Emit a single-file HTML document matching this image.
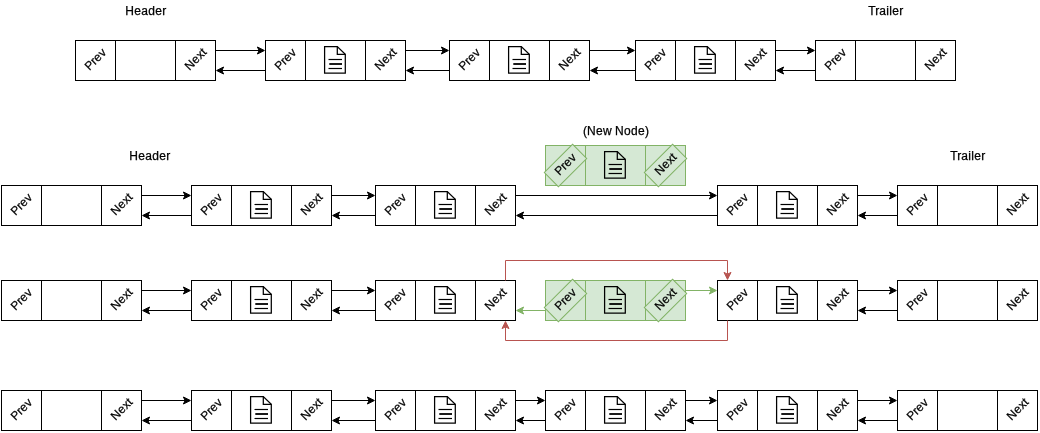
<!DOCTYPE html><html><head><meta charset="utf-8"><style>html,body{margin:0;padding:0;background:#fff;}svg{display:block;will-change:transform;}text{font-family:"Liberation Sans", sans-serif;fill:#000;stroke:#000;stroke-width:0.25px;}</style></head><body><svg width="1040" height="433" viewBox="0 0 1040 433"><rect x="0" y="0" width="1040" height="433" fill="#fff"/><g transform="translate(0.5,0.5)"><rect x="75" y="40" width="140" height="40" fill="#ffffff" stroke="#000000"/><path d="M115 40L115 80M175 40L175 80" stroke="#000000" fill="none"/><text x="83.30 91.30 95.30 102.30" y="63.05" font-size="12" transform="rotate(-45 95 60)">Prev</text><text x="183.30 192.30 199.30 205.30" y="63.05" font-size="12" transform="rotate(-45 195 60)">Next</text><rect x="265" y="40" width="140" height="40" fill="#ffffff" stroke="#000000"/><path d="M305 40L305 80M365 40L365 80" stroke="#000000" fill="none"/><text x="273.30 281.30 285.30 292.30" y="63.05" font-size="12" transform="rotate(-45 285 60)">Prev</text><text x="373.30 382.30 389.30 395.30" y="63.05" font-size="12" transform="rotate(-45 385 60)">Next</text><path d="M324.10 46.10L336.80 46.10L344.80 53.85L344.80 72.50L324.10 72.50Z" fill="none" stroke="#000" stroke-width="1.25" stroke-linejoin="miter"/><path d="M336.80 46.10L336.80 53.85L344.80 53.85" fill="none" stroke="#000" stroke-width="1.25"/><path d="M328.00 59.00L341.50 59.00" stroke="#000" stroke-width="1.2"/><path d="M328.80 63.50L341.50 63.50" stroke="#000" stroke-width="1.8"/><path d="M328.00 68.00L341.50 68.00" stroke="#000" stroke-width="1.2"/><rect x="449" y="40" width="140" height="40" fill="#ffffff" stroke="#000000"/><path d="M489 40L489 80M549 40L549 80" stroke="#000000" fill="none"/><text x="457.30 465.30 469.30 476.30" y="63.05" font-size="12" transform="rotate(-45 469 60)">Prev</text><text x="557.30 566.30 573.30 579.30" y="63.05" font-size="12" transform="rotate(-45 569 60)">Next</text><path d="M508.10 46.10L520.80 46.10L528.80 53.85L528.80 72.50L508.10 72.50Z" fill="none" stroke="#000" stroke-width="1.25" stroke-linejoin="miter"/><path d="M520.80 46.10L520.80 53.85L528.80 53.85" fill="none" stroke="#000" stroke-width="1.25"/><path d="M512.00 59.00L525.50 59.00" stroke="#000" stroke-width="1.2"/><path d="M512.80 63.50L525.50 63.50" stroke="#000" stroke-width="1.8"/><path d="M512.00 68.00L525.50 68.00" stroke="#000" stroke-width="1.2"/><rect x="635" y="40" width="140" height="40" fill="#ffffff" stroke="#000000"/><path d="M675 40L675 80M735 40L735 80" stroke="#000000" fill="none"/><text x="643.30 651.30 655.30 662.30" y="63.05" font-size="12" transform="rotate(-45 655 60)">Prev</text><text x="743.30 752.30 759.30 765.30" y="63.05" font-size="12" transform="rotate(-45 755 60)">Next</text><path d="M694.10 46.10L706.80 46.10L714.80 53.85L714.80 72.50L694.10 72.50Z" fill="none" stroke="#000" stroke-width="1.25" stroke-linejoin="miter"/><path d="M706.80 46.10L706.80 53.85L714.80 53.85" fill="none" stroke="#000" stroke-width="1.25"/><path d="M698.00 59.00L711.50 59.00" stroke="#000" stroke-width="1.2"/><path d="M698.80 63.50L711.50 63.50" stroke="#000" stroke-width="1.8"/><path d="M698.00 68.00L711.50 68.00" stroke="#000" stroke-width="1.2"/><rect x="815" y="40" width="140" height="40" fill="#ffffff" stroke="#000000"/><path d="M855 40L855 80M915 40L915 80" stroke="#000000" fill="none"/><text x="823.30 831.30 835.30 842.30" y="63.05" font-size="12" transform="rotate(-45 835 60)">Prev</text><text x="923.30 932.30 939.30 945.30" y="63.05" font-size="12" transform="rotate(-45 935 60)">Next</text><path d="M215 50L258.632 50" fill="none" stroke="#000000" stroke-miterlimit="10"/><path d="M263.882 50.000L256.882 46.500L258.632 50.000L256.882 53.500Z" fill="#000000" stroke="#000000" stroke-miterlimit="10"/><path d="M265 70L221.368 70" fill="none" stroke="#000000" stroke-miterlimit="10"/><path d="M216.118 70.000L223.118 66.500L221.368 70.000L223.118 73.500Z" fill="#000000" stroke="#000000" stroke-miterlimit="10"/><path d="M405 50L442.632 50" fill="none" stroke="#000000" stroke-miterlimit="10"/><path d="M447.882 50.000L440.882 46.500L442.632 50.000L440.882 53.500Z" fill="#000000" stroke="#000000" stroke-miterlimit="10"/><path d="M449 70L411.368 70" fill="none" stroke="#000000" stroke-miterlimit="10"/><path d="M406.118 70.000L413.118 66.500L411.368 70.000L413.118 73.500Z" fill="#000000" stroke="#000000" stroke-miterlimit="10"/><path d="M589 50L628.632 50" fill="none" stroke="#000000" stroke-miterlimit="10"/><path d="M633.882 50.000L626.882 46.500L628.632 50.000L626.882 53.500Z" fill="#000000" stroke="#000000" stroke-miterlimit="10"/><path d="M635 70L595.368 70" fill="none" stroke="#000000" stroke-miterlimit="10"/><path d="M590.118 70.000L597.118 66.500L595.368 70.000L597.118 73.500Z" fill="#000000" stroke="#000000" stroke-miterlimit="10"/><path d="M775 50L808.632 50" fill="none" stroke="#000000" stroke-miterlimit="10"/><path d="M813.882 50.000L806.882 46.500L808.632 50.000L806.882 53.500Z" fill="#000000" stroke="#000000" stroke-miterlimit="10"/><path d="M815 70L781.368 70" fill="none" stroke="#000000" stroke-miterlimit="10"/><path d="M776.118 70.000L783.118 66.500L781.368 70.000L783.118 73.500Z" fill="#000000" stroke="#000000" stroke-miterlimit="10"/><text x="124.82 133.82 140.82 147.82 154.82 161.82" y="14.3" font-size="12">Header</text><text x="867.73 874.73 878.73 885.73 888.73 891.73 898.73" y="14.4" font-size="12">Trailer</text><rect x="1" y="185" width="140" height="40" fill="#ffffff" stroke="#000000"/><path d="M41 185L41 225M101 185L101 225" stroke="#000000" fill="none"/><text x="9.30 17.30 21.30 28.30" y="208.05" font-size="12" transform="rotate(-45 21 205)">Prev</text><text x="109.30 118.30 125.30 131.30" y="208.05" font-size="12" transform="rotate(-45 121 205)">Next</text><rect x="191" y="185" width="140" height="40" fill="#ffffff" stroke="#000000"/><path d="M231 185L231 225M291 185L291 225" stroke="#000000" fill="none"/><text x="199.30 207.30 211.30 218.30" y="208.05" font-size="12" transform="rotate(-45 211 205)">Prev</text><text x="299.30 308.30 315.30 321.30" y="208.05" font-size="12" transform="rotate(-45 311 205)">Next</text><path d="M250.10 191.10L262.80 191.10L270.80 198.85L270.80 217.50L250.10 217.50Z" fill="none" stroke="#000" stroke-width="1.25" stroke-linejoin="miter"/><path d="M262.80 191.10L262.80 198.85L270.80 198.85" fill="none" stroke="#000" stroke-width="1.25"/><path d="M254.00 204.00L267.50 204.00" stroke="#000" stroke-width="1.2"/><path d="M254.80 208.50L267.50 208.50" stroke="#000" stroke-width="1.8"/><path d="M254.00 213.00L267.50 213.00" stroke="#000" stroke-width="1.2"/><rect x="375" y="185" width="140" height="40" fill="#ffffff" stroke="#000000"/><path d="M415 185L415 225M475 185L475 225" stroke="#000000" fill="none"/><text x="383.30 391.30 395.30 402.30" y="208.05" font-size="12" transform="rotate(-45 395 205)">Prev</text><text x="483.30 492.30 499.30 505.30" y="208.05" font-size="12" transform="rotate(-45 495 205)">Next</text><path d="M434.10 191.10L446.80 191.10L454.80 198.85L454.80 217.50L434.10 217.50Z" fill="none" stroke="#000" stroke-width="1.25" stroke-linejoin="miter"/><path d="M446.80 191.10L446.80 198.85L454.80 198.85" fill="none" stroke="#000" stroke-width="1.25"/><path d="M438.00 204.00L451.50 204.00" stroke="#000" stroke-width="1.2"/><path d="M438.80 208.50L451.50 208.50" stroke="#000" stroke-width="1.8"/><path d="M438.00 213.00L451.50 213.00" stroke="#000" stroke-width="1.2"/><rect x="717" y="185" width="140" height="40" fill="#ffffff" stroke="#000000"/><path d="M757 185L757 225M817 185L817 225" stroke="#000000" fill="none"/><text x="725.30 733.30 737.30 744.30" y="208.05" font-size="12" transform="rotate(-45 737 205)">Prev</text><text x="825.30 834.30 841.30 847.30" y="208.05" font-size="12" transform="rotate(-45 837 205)">Next</text><path d="M776.10 191.10L788.80 191.10L796.80 198.85L796.80 217.50L776.10 217.50Z" fill="none" stroke="#000" stroke-width="1.25" stroke-linejoin="miter"/><path d="M788.80 191.10L788.80 198.85L796.80 198.85" fill="none" stroke="#000" stroke-width="1.25"/><path d="M780.00 204.00L793.50 204.00" stroke="#000" stroke-width="1.2"/><path d="M780.80 208.50L793.50 208.50" stroke="#000" stroke-width="1.8"/><path d="M780.00 213.00L793.50 213.00" stroke="#000" stroke-width="1.2"/><rect x="897" y="185" width="140" height="40" fill="#ffffff" stroke="#000000"/><path d="M937 185L937 225M997 185L997 225" stroke="#000000" fill="none"/><text x="905.30 913.30 917.30 924.30" y="208.05" font-size="12" transform="rotate(-45 917 205)">Prev</text><text x="1005.30 1014.30 1021.30 1027.30" y="208.05" font-size="12" transform="rotate(-45 1017 205)">Next</text><path d="M141 195L184.632 195" fill="none" stroke="#000000" stroke-miterlimit="10"/><path d="M189.882 195.000L182.882 191.500L184.632 195.000L182.882 198.500Z" fill="#000000" stroke="#000000" stroke-miterlimit="10"/><path d="M191 215L147.368 215" fill="none" stroke="#000000" stroke-miterlimit="10"/><path d="M142.118 215.000L149.118 211.500L147.368 215.000L149.118 218.500Z" fill="#000000" stroke="#000000" stroke-miterlimit="10"/><path d="M331 195L368.632 195" fill="none" stroke="#000000" stroke-miterlimit="10"/><path d="M373.882 195.000L366.882 191.500L368.632 195.000L366.882 198.500Z" fill="#000000" stroke="#000000" stroke-miterlimit="10"/><path d="M375 215L337.368 215" fill="none" stroke="#000000" stroke-miterlimit="10"/><path d="M332.118 215.000L339.118 211.500L337.368 215.000L339.118 218.500Z" fill="#000000" stroke="#000000" stroke-miterlimit="10"/><path d="M515 195L710.632 195" fill="none" stroke="#000000" stroke-miterlimit="10"/><path d="M715.882 195.000L708.882 191.500L710.632 195.000L708.882 198.500Z" fill="#000000" stroke="#000000" stroke-miterlimit="10"/><path d="M717 215L521.368 215" fill="none" stroke="#000000" stroke-miterlimit="10"/><path d="M516.118 215.000L523.118 211.500L521.368 215.000L523.118 218.500Z" fill="#000000" stroke="#000000" stroke-miterlimit="10"/><path d="M857 195L890.632 195" fill="none" stroke="#000000" stroke-miterlimit="10"/><path d="M895.882 195.000L888.882 191.500L890.632 195.000L888.882 198.500Z" fill="#000000" stroke="#000000" stroke-miterlimit="10"/><path d="M897 215L863.368 215" fill="none" stroke="#000000" stroke-miterlimit="10"/><path d="M858.118 215.000L865.118 211.500L863.368 215.000L865.118 218.500Z" fill="#000000" stroke="#000000" stroke-miterlimit="10"/><text x="128.82 137.82 144.82 151.82 158.82 165.82" y="159.3" font-size="12">Header</text><text x="949.73 956.73 960.73 967.73 970.73 973.73 980.73" y="159.4" font-size="12">Trailer</text><rect x="545" y="145" width="140" height="40" fill="#d5e8d4" stroke="#82b366"/><path d="M585 145L585 185M645 145L645 185" stroke="#82b366" fill="none"/><rect x="545" y="155" width="40" height="20" fill="#d5e8d4" stroke="#82b366" transform="rotate(-45 565 165)"/><text x="553.30 561.30 565.30 572.30" y="168.05" font-size="12" transform="rotate(-45 565 165)">Prev</text><rect x="645" y="155" width="40" height="20" fill="#d5e8d4" stroke="#82b366" transform="rotate(-45 665 165)"/><text x="653.30 662.30 669.30 675.30" y="168.05" font-size="12" transform="rotate(-45 665 165)">Next</text><path d="M604.10 151.10L616.80 151.10L624.80 158.85L624.80 177.50L604.10 177.50Z" fill="none" stroke="#000" stroke-width="1.25" stroke-linejoin="miter"/><path d="M616.80 151.10L616.80 158.85L624.80 158.85" fill="none" stroke="#000" stroke-width="1.25"/><path d="M608.00 164.00L621.50 164.00" stroke="#000" stroke-width="1.2"/><path d="M608.80 168.50L621.50 168.50" stroke="#000" stroke-width="1.8"/><path d="M608.00 173.00L621.50 173.00" stroke="#000" stroke-width="1.2"/><text x="582.56 586.56 595.56 602.56 611.56 614.56 623.56 630.56 637.56 644.56" y="134.1" font-size="12">(New Node)</text><rect x="1" y="280" width="140" height="40" fill="#ffffff" stroke="#000000"/><path d="M41 280L41 320M101 280L101 320" stroke="#000000" fill="none"/><text x="9.30 17.30 21.30 28.30" y="303.05" font-size="12" transform="rotate(-45 21 300)">Prev</text><text x="109.30 118.30 125.30 131.30" y="303.05" font-size="12" transform="rotate(-45 121 300)">Next</text><rect x="191" y="280" width="140" height="40" fill="#ffffff" stroke="#000000"/><path d="M231 280L231 320M291 280L291 320" stroke="#000000" fill="none"/><text x="199.30 207.30 211.30 218.30" y="303.05" font-size="12" transform="rotate(-45 211 300)">Prev</text><text x="299.30 308.30 315.30 321.30" y="303.05" font-size="12" transform="rotate(-45 311 300)">Next</text><path d="M250.10 286.10L262.80 286.10L270.80 293.85L270.80 312.50L250.10 312.50Z" fill="none" stroke="#000" stroke-width="1.25" stroke-linejoin="miter"/><path d="M262.80 286.10L262.80 293.85L270.80 293.85" fill="none" stroke="#000" stroke-width="1.25"/><path d="M254.00 299.00L267.50 299.00" stroke="#000" stroke-width="1.2"/><path d="M254.80 303.50L267.50 303.50" stroke="#000" stroke-width="1.8"/><path d="M254.00 308.00L267.50 308.00" stroke="#000" stroke-width="1.2"/><rect x="375" y="280" width="140" height="40" fill="#ffffff" stroke="#000000"/><path d="M415 280L415 320M475 280L475 320" stroke="#000000" fill="none"/><text x="383.30 391.30 395.30 402.30" y="303.05" font-size="12" transform="rotate(-45 395 300)">Prev</text><text x="483.30 492.30 499.30 505.30" y="303.05" font-size="12" transform="rotate(-45 495 300)">Next</text><path d="M434.10 286.10L446.80 286.10L454.80 293.85L454.80 312.50L434.10 312.50Z" fill="none" stroke="#000" stroke-width="1.25" stroke-linejoin="miter"/><path d="M446.80 286.10L446.80 293.85L454.80 293.85" fill="none" stroke="#000" stroke-width="1.25"/><path d="M438.00 299.00L451.50 299.00" stroke="#000" stroke-width="1.2"/><path d="M438.80 303.50L451.50 303.50" stroke="#000" stroke-width="1.8"/><path d="M438.00 308.00L451.50 308.00" stroke="#000" stroke-width="1.2"/><rect x="717" y="280" width="140" height="40" fill="#ffffff" stroke="#000000"/><path d="M757 280L757 320M817 280L817 320" stroke="#000000" fill="none"/><text x="725.30 733.30 737.30 744.30" y="303.05" font-size="12" transform="rotate(-45 737 300)">Prev</text><text x="825.30 834.30 841.30 847.30" y="303.05" font-size="12" transform="rotate(-45 837 300)">Next</text><path d="M776.10 286.10L788.80 286.10L796.80 293.85L796.80 312.50L776.10 312.50Z" fill="none" stroke="#000" stroke-width="1.25" stroke-linejoin="miter"/><path d="M788.80 286.10L788.80 293.85L796.80 293.85" fill="none" stroke="#000" stroke-width="1.25"/><path d="M780.00 299.00L793.50 299.00" stroke="#000" stroke-width="1.2"/><path d="M780.80 303.50L793.50 303.50" stroke="#000" stroke-width="1.8"/><path d="M780.00 308.00L793.50 308.00" stroke="#000" stroke-width="1.2"/><rect x="897" y="280" width="140" height="40" fill="#ffffff" stroke="#000000"/><path d="M937 280L937 320M997 280L997 320" stroke="#000000" fill="none"/><text x="905.30 913.30 917.30 924.30" y="303.05" font-size="12" transform="rotate(-45 917 300)">Prev</text><text x="1005.30 1014.30 1021.30 1027.30" y="303.05" font-size="12" transform="rotate(-45 1017 300)">Next</text><path d="M141 290L184.632 290" fill="none" stroke="#000000" stroke-miterlimit="10"/><path d="M189.882 290.000L182.882 286.500L184.632 290.000L182.882 293.500Z" fill="#000000" stroke="#000000" stroke-miterlimit="10"/><path d="M191 310L147.368 310" fill="none" stroke="#000000" stroke-miterlimit="10"/><path d="M142.118 310.000L149.118 306.500L147.368 310.000L149.118 313.500Z" fill="#000000" stroke="#000000" stroke-miterlimit="10"/><path d="M331 290L368.632 290" fill="none" stroke="#000000" stroke-miterlimit="10"/><path d="M373.882 290.000L366.882 286.500L368.632 290.000L366.882 293.500Z" fill="#000000" stroke="#000000" stroke-miterlimit="10"/><path d="M375 310L337.368 310" fill="none" stroke="#000000" stroke-miterlimit="10"/><path d="M332.118 310.000L339.118 306.500L337.368 310.000L339.118 313.500Z" fill="#000000" stroke="#000000" stroke-miterlimit="10"/><path d="M857 290L890.632 290" fill="none" stroke="#000000" stroke-miterlimit="10"/><path d="M895.882 290.000L888.882 286.500L890.632 290.000L888.882 293.500Z" fill="#000000" stroke="#000000" stroke-miterlimit="10"/><path d="M897 310L863.368 310" fill="none" stroke="#000000" stroke-miterlimit="10"/><path d="M858.118 310.000L865.118 306.500L863.368 310.000L865.118 313.500Z" fill="#000000" stroke="#000000" stroke-miterlimit="10"/><rect x="545" y="280" width="140" height="40" fill="#d5e8d4" stroke="#82b366"/><path d="M585 280L585 320M645 280L645 320" stroke="#82b366" fill="none"/><rect x="545" y="290" width="40" height="20" fill="#d5e8d4" stroke="#82b366" transform="rotate(-45 565 300)"/><text x="553.30 561.30 565.30 572.30" y="303.05" font-size="12" transform="rotate(-45 565 300)">Prev</text><rect x="645" y="290" width="40" height="20" fill="#d5e8d4" stroke="#82b366" transform="rotate(-45 665 300)"/><text x="653.30 662.30 669.30 675.30" y="303.05" font-size="12" transform="rotate(-45 665 300)">Next</text><path d="M604.10 286.10L616.80 286.10L624.80 293.85L624.80 312.50L604.10 312.50Z" fill="none" stroke="#000" stroke-width="1.25" stroke-linejoin="miter"/><path d="M616.80 286.10L616.80 293.85L624.80 293.85" fill="none" stroke="#000" stroke-width="1.25"/><path d="M608.00 299.00L621.50 299.00" stroke="#000" stroke-width="1.2"/><path d="M608.80 303.50L621.50 303.50" stroke="#000" stroke-width="1.8"/><path d="M608.00 308.00L621.50 308.00" stroke="#000" stroke-width="1.2"/><path d="M545 310L521.368 310" fill="none" stroke="#82b366" stroke-miterlimit="10"/><path d="M516.118 310.000L523.118 306.500L521.368 310.000L523.118 313.500Z" fill="#82b366" stroke="#82b366" stroke-miterlimit="10"/><path d="M685 290L710.632 290" fill="none" stroke="#82b366" stroke-miterlimit="10"/><path d="M715.882 290.000L708.882 286.500L710.632 290.000L708.882 293.500Z" fill="#82b366" stroke="#82b366" stroke-miterlimit="10"/><path d="M505 280L505 260L727 260L727 273.632" fill="none" stroke="#b85450" stroke-miterlimit="10"/><path d="M727.000 278.882L723.500 271.882L727.000 273.632L730.500 271.882Z" fill="#b85450" stroke="#b85450" stroke-miterlimit="10"/><path d="M727 320L727 340L505 340L505 326.368" fill="none" stroke="#b85450" stroke-miterlimit="10"/><path d="M505.000 321.118L501.500 328.118L505.000 326.368L508.500 328.118Z" fill="#b85450" stroke="#b85450" stroke-miterlimit="10"/><rect x="1" y="390" width="140" height="40" fill="#ffffff" stroke="#000000"/><path d="M41 390L41 430M101 390L101 430" stroke="#000000" fill="none"/><text x="9.30 17.30 21.30 28.30" y="413.05" font-size="12" transform="rotate(-45 21 410)">Prev</text><text x="109.30 118.30 125.30 131.30" y="413.05" font-size="12" transform="rotate(-45 121 410)">Next</text><rect x="191" y="390" width="140" height="40" fill="#ffffff" stroke="#000000"/><path d="M231 390L231 430M291 390L291 430" stroke="#000000" fill="none"/><text x="199.30 207.30 211.30 218.30" y="413.05" font-size="12" transform="rotate(-45 211 410)">Prev</text><text x="299.30 308.30 315.30 321.30" y="413.05" font-size="12" transform="rotate(-45 311 410)">Next</text><path d="M250.10 396.10L262.80 396.10L270.80 403.85L270.80 422.50L250.10 422.50Z" fill="none" stroke="#000" stroke-width="1.25" stroke-linejoin="miter"/><path d="M262.80 396.10L262.80 403.85L270.80 403.85" fill="none" stroke="#000" stroke-width="1.25"/><path d="M254.00 409.00L267.50 409.00" stroke="#000" stroke-width="1.2"/><path d="M254.80 413.50L267.50 413.50" stroke="#000" stroke-width="1.8"/><path d="M254.00 418.00L267.50 418.00" stroke="#000" stroke-width="1.2"/><rect x="375" y="390" width="140" height="40" fill="#ffffff" stroke="#000000"/><path d="M415 390L415 430M475 390L475 430" stroke="#000000" fill="none"/><text x="383.30 391.30 395.30 402.30" y="413.05" font-size="12" transform="rotate(-45 395 410)">Prev</text><text x="483.30 492.30 499.30 505.30" y="413.05" font-size="12" transform="rotate(-45 495 410)">Next</text><path d="M434.10 396.10L446.80 396.10L454.80 403.85L454.80 422.50L434.10 422.50Z" fill="none" stroke="#000" stroke-width="1.25" stroke-linejoin="miter"/><path d="M446.80 396.10L446.80 403.85L454.80 403.85" fill="none" stroke="#000" stroke-width="1.25"/><path d="M438.00 409.00L451.50 409.00" stroke="#000" stroke-width="1.2"/><path d="M438.80 413.50L451.50 413.50" stroke="#000" stroke-width="1.8"/><path d="M438.00 418.00L451.50 418.00" stroke="#000" stroke-width="1.2"/><rect x="545" y="390" width="140" height="40" fill="#ffffff" stroke="#000000"/><path d="M585 390L585 430M645 390L645 430" stroke="#000000" fill="none"/><text x="553.30 561.30 565.30 572.30" y="413.05" font-size="12" transform="rotate(-45 565 410)">Prev</text><text x="653.30 662.30 669.30 675.30" y="413.05" font-size="12" transform="rotate(-45 665 410)">Next</text><path d="M604.10 396.10L616.80 396.10L624.80 403.85L624.80 422.50L604.10 422.50Z" fill="none" stroke="#000" stroke-width="1.25" stroke-linejoin="miter"/><path d="M616.80 396.10L616.80 403.85L624.80 403.85" fill="none" stroke="#000" stroke-width="1.25"/><path d="M608.00 409.00L621.50 409.00" stroke="#000" stroke-width="1.2"/><path d="M608.80 413.50L621.50 413.50" stroke="#000" stroke-width="1.8"/><path d="M608.00 418.00L621.50 418.00" stroke="#000" stroke-width="1.2"/><rect x="717" y="390" width="140" height="40" fill="#ffffff" stroke="#000000"/><path d="M757 390L757 430M817 390L817 430" stroke="#000000" fill="none"/><text x="725.30 733.30 737.30 744.30" y="413.05" font-size="12" transform="rotate(-45 737 410)">Prev</text><text x="825.30 834.30 841.30 847.30" y="413.05" font-size="12" transform="rotate(-45 837 410)">Next</text><path d="M776.10 396.10L788.80 396.10L796.80 403.85L796.80 422.50L776.10 422.50Z" fill="none" stroke="#000" stroke-width="1.25" stroke-linejoin="miter"/><path d="M788.80 396.10L788.80 403.85L796.80 403.85" fill="none" stroke="#000" stroke-width="1.25"/><path d="M780.00 409.00L793.50 409.00" stroke="#000" stroke-width="1.2"/><path d="M780.80 413.50L793.50 413.50" stroke="#000" stroke-width="1.8"/><path d="M780.00 418.00L793.50 418.00" stroke="#000" stroke-width="1.2"/><rect x="897" y="390" width="140" height="40" fill="#ffffff" stroke="#000000"/><path d="M937 390L937 430M997 390L997 430" stroke="#000000" fill="none"/><text x="905.30 913.30 917.30 924.30" y="413.05" font-size="12" transform="rotate(-45 917 410)">Prev</text><text x="1005.30 1014.30 1021.30 1027.30" y="413.05" font-size="12" transform="rotate(-45 1017 410)">Next</text><path d="M141 400L184.632 400" fill="none" stroke="#000000" stroke-miterlimit="10"/><path d="M189.882 400.000L182.882 396.500L184.632 400.000L182.882 403.500Z" fill="#000000" stroke="#000000" stroke-miterlimit="10"/><path d="M191 420L147.368 420" fill="none" stroke="#000000" stroke-miterlimit="10"/><path d="M142.118 420.000L149.118 416.500L147.368 420.000L149.118 423.500Z" fill="#000000" stroke="#000000" stroke-miterlimit="10"/><path d="M331 400L368.632 400" fill="none" stroke="#000000" stroke-miterlimit="10"/><path d="M373.882 400.000L366.882 396.500L368.632 400.000L366.882 403.500Z" fill="#000000" stroke="#000000" stroke-miterlimit="10"/><path d="M375 420L337.368 420" fill="none" stroke="#000000" stroke-miterlimit="10"/><path d="M332.118 420.000L339.118 416.500L337.368 420.000L339.118 423.500Z" fill="#000000" stroke="#000000" stroke-miterlimit="10"/><path d="M515 400L538.632 400" fill="none" stroke="#000000" stroke-miterlimit="10"/><path d="M543.882 400.000L536.882 396.500L538.632 400.000L536.882 403.500Z" fill="#000000" stroke="#000000" stroke-miterlimit="10"/><path d="M545 420L521.368 420" fill="none" stroke="#000000" stroke-miterlimit="10"/><path d="M516.118 420.000L523.118 416.500L521.368 420.000L523.118 423.500Z" fill="#000000" stroke="#000000" stroke-miterlimit="10"/><path d="M685 400L710.632 400" fill="none" stroke="#000000" stroke-miterlimit="10"/><path d="M715.882 400.000L708.882 396.500L710.632 400.000L708.882 403.500Z" fill="#000000" stroke="#000000" stroke-miterlimit="10"/><path d="M717 420L691.368 420" fill="none" stroke="#000000" stroke-miterlimit="10"/><path d="M686.118 420.000L693.118 416.500L691.368 420.000L693.118 423.500Z" fill="#000000" stroke="#000000" stroke-miterlimit="10"/><path d="M857 400L890.632 400" fill="none" stroke="#000000" stroke-miterlimit="10"/><path d="M895.882 400.000L888.882 396.500L890.632 400.000L888.882 403.500Z" fill="#000000" stroke="#000000" stroke-miterlimit="10"/><path d="M897 420L863.368 420" fill="none" stroke="#000000" stroke-miterlimit="10"/><path d="M858.118 420.000L865.118 416.500L863.368 420.000L865.118 423.500Z" fill="#000000" stroke="#000000" stroke-miterlimit="10"/></g></svg></body></html>
